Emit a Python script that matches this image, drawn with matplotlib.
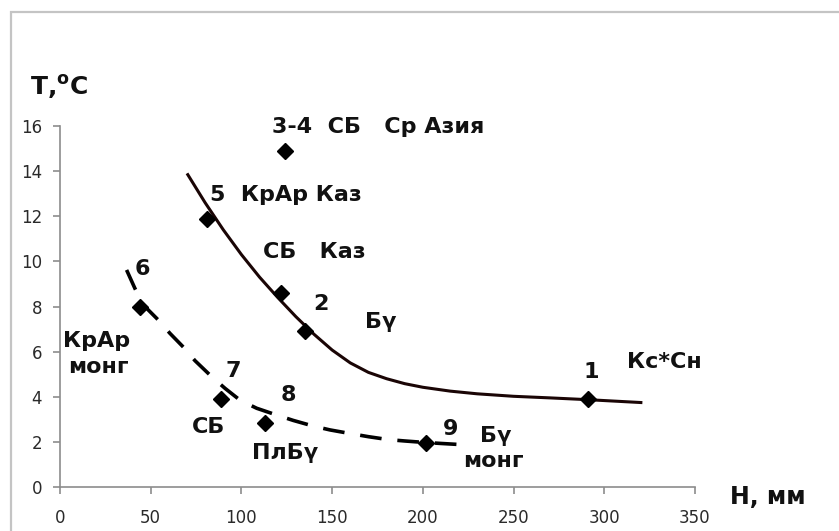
import matplotlib.pyplot as plt
from matplotlib.patches import Rectangle

# точки: H, мм / T, oC
H = [291, 135, 122, 124, 81, 44, 89, 113, 202]
T = [3.9, 6.9, 8.6, 14.9, 11.9, 8.0, 3.9, 2.85, 1.95]

# линия тренда (сплошная)
solid_h = [70, 80, 90, 100, 110, 120, 130, 140, 150, 160, 170, 180, 190, 200,
           215, 230, 250, 270, 291, 321]
solid_t = [13.9, 12.6, 11.4, 10.3, 9.3, 8.4, 7.55, 6.77, 6.07, 5.5, 5.08, 4.8, 4.58, 4.42,
           4.25, 4.13, 4.02, 3.95, 3.87, 3.74]

# линия тренда (пунктир)
dash_h = [36.7, 41.3, 45.9, 54.2, 60.6, 68, 74.4, 83.6, 91, 99.2, 108.4, 119.4,
          128.6, 139.6, 148.8, 159.9, 170, 181, 190, 200, 210, 223]
dash_t = [9.62, 8.8, 8.07, 7.4, 6.81, 6.2, 5.6, 4.89, 4.37, 3.85, 3.49, 3.19,
          2.95, 2.7, 2.53, 2.37, 2.23, 2.1, 2.04, 1.98, 1.93, 1.87]

# подписи: текст, H, T
labels = [
    ("3-4  СБ   Ср Азия", 117, 15.95),
    ("5  КрАр Каз", 82.7, 12.94),
    ("СБ   Каз", 112, 10.4),
    ("2", 139.5, 8.1),
    ("Бү", 168, 7.3),
    ("1", 288.5, 5.1),
    ("Кс*Сн", 312.5, 5.55),
    ("6", 41.3, 9.66),
    ("КрАр", 1.7, 6.47),
    ("монг", 4.5, 5.3),
    ("7", 91, 5.14),
    ("8", 121.5, 4.08),
    ("СБ", 72.8, 2.66),
    ("ПлБү", 105.8, 1.5),
    ("9", 211, 2.57),
    ("Бү", 231.5, 2.27),
    ("монг", 222, 1.15),
]

W, Hpx = 839, 531
fig = plt.figure(figsize=(W / 100, Hpx / 100), dpi=100)
ax = fig.add_axes([60 / W, 1 - 487 / Hpx, (695 - 60) / W, (487 - 126) / Hpx])

# рамка вокруг диаграммы
fig.add_artist(Rectangle((11 / W, -0.2), 1.2, 1.2 - 12 / Hpx, transform=fig.transFigure,
                         fill=False, ec='#c4c4c4', lw=1.6))

ax.plot(solid_h, solid_t, color='#1a0505', lw=2.2, solid_capstyle='butt')
ax.plot(dash_h, dash_t, color='black', lw=2.6, dashes=(6, 4.4), dash_capstyle='butt')
ax.plot(H, T, 'D', color='black', ms=8.5, ls='none')

for s, x, y in labels:
    ax.text(x, y, s, fontsize=16, fontweight='bold', color='#111111',
            ha='left', va='center', clip_on=False)

ax.set_xlim(0, 350)
ax.set_ylim(0, 16)
ax.set_xticks(range(0, 351, 50))
ax.set_yticks(range(0, 17, 2))
for side in ['top', 'right']:
    ax.spines[side].set_visible(False)
for side in ['left', 'bottom']:
    ax.spines[side].set_color('#8c8c8c')
    ax.spines[side].set_linewidth(1.2)
ax.tick_params(axis='both', colors='#8c8c8c', labelcolor='#2a2a2a', labelsize=12,
               length=5, width=1.2, direction='out')
ax.tick_params(axis='x', pad=11)
ax.tick_params(axis='y', pad=8)

fig.text(730 / W, 1 - 497 / Hpx, "Н, мм", fontsize=17, fontweight='bold', ha='left',
         va='center', color='#111111')
fig.text(30 / W, 1 - 87 / Hpx, "Т,$^\\mathregular{o}$С", fontsize=18, fontweight='bold',
         ha='left', va='center', color='#111111')

fig.savefig('out.png', dpi=100)
